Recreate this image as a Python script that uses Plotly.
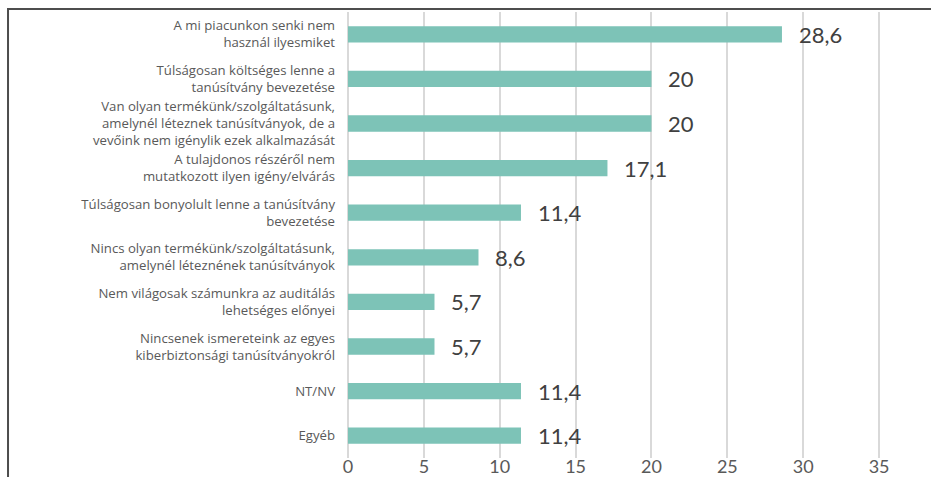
import plotly.graph_objects as go

categories = [
    "A mi piacunkon senki nem<br>használ ilyesmiket",
    "Túlságosan költséges lenne a<br>tanúsítvány bevezetése",
    "Van olyan termékünk/szolgáltatásunk,<br>amelynél léteznek tanúsítványok, de a<br>vevőink nem igénylik ezek alkalmazását",
    "A tulajdonos részéről nem<br>mutatkozott ilyen igény/elvárás",
    "Túlságosan bonyolult lenne a tanúsítvány<br>bevezetése",
    "Nincs olyan termékünk/szolgáltatásunk,<br>amelynél léteznének tanúsítványok",
    "Nem világosak számunkra az auditálás<br>lehetséges előnyei",
    "Nincsenek ismereteink az egyes<br>kiberbiztonsági tanúsítványokról",
    "NT/NV",
    "Egyéb",
]
values = [28.6, 20, 20, 17.1, 11.4, 8.6, 5.7, 5.7, 11.4, 11.4]
value_labels = ["28,6", "20", "20", "17,1", "11,4", "8,6", "5,7", "5,7", "11,4", "11,4"]
x_ticks = [0, 5, 10, 15, 20, 25, 30, 35]

FONT = "Lato"
LABEL_FONT = "Open Sans"

fig = go.Figure()
fig.add_trace(go.Bar(
    x=values, y=categories, orientation="h",
    marker=dict(color="#7dc3b7", line=dict(width=0)),
    hoverinfo="skip",
))

for v, c, t in zip(values, categories, value_labels):
    fig.add_annotation(
        x=v, y=c, text=t, showarrow=False, xanchor="left", yanchor="middle",
        xshift=15, font=dict(family=FONT, size=22, color="#404040"),
    )

fig.add_shape(
    type="rect", xref="paper", yref="paper",
    x0=-0.5975, x1=1.3, y0=-0.3, y1=1.0067,
    line=dict(color="#4d4d4d", width=2), layer="above",
)

fig.update_layout(
    width=931, height=477,
    margin=dict(l=348, r=14, t=12, b=19, autoexpand=False),
    paper_bgcolor="white", plot_bgcolor="white",
    bargap=0.635,
    showlegend=False,
    xaxis=dict(
        range=[0, 37.5], tickvals=x_ticks, ticktext=[str(t) for t in x_ticks],
        showgrid=True, gridcolor="#d9d9d9", gridwidth=2,
        zeroline=True, zerolinecolor="#d9d9d9", zerolinewidth=2,
        showline=False, ticks="", automargin=False, ticklabelstandoff=-4,
        tickfont=dict(family=FONT, size=18, color="#595959"),
    ),
    yaxis=dict(
        autorange="reversed", showgrid=False, zeroline=False, showline=False,
        ticks="", ticklabelstandoff=12, automargin=False,
        tickfont=dict(family=LABEL_FONT, size=13.2, color="#595959"),
    ),
)

fig.write_html("out.html")
